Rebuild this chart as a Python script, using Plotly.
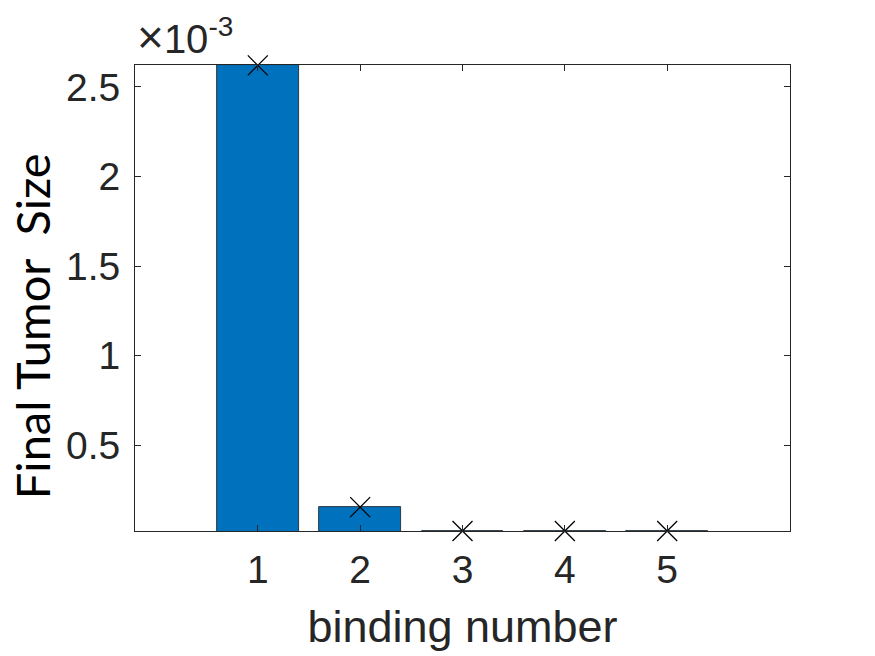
import plotly.graph_objects as go

binding = [1, 2, 3, 4, 5]
tumor_size = [2.62e-3, 0.155e-3, 0.022e-3, 0.022e-3, 0.022e-3]
y_tickvals = [0.5e-3, 1.0e-3, 1.5e-3, 2.0e-3, 2.5e-3]
y_ticktext = ["0.5", "1", "1.5", "2", "2.5"]
x_tickvals = [1, 2, 3, 4, 5]

font_family = "Liberation Sans, Arial, sans-serif"
txt = "#262626"

fig = go.Figure()
fig.add_trace(go.Bar(
    x=binding, y=tumor_size, width=0.8,
    marker=dict(color="#0072BD", line=dict(color="#1a1a1a", width=0.8)),
    showlegend=False,
))
fig.add_trace(go.Scatter(
    x=binding, y=tumor_size, mode="markers",
    marker=dict(symbol="x-thin", size=20, line=dict(color="black", width=1.3)),
    showlegend=False, cliponaxis=False,
))

axis_common = dict(
    showline=True, linecolor="#262626", linewidth=1, mirror="ticks",
    ticks="inside", ticklen=6, tickcolor="#262626", showgrid=False, zeroline=False,
    tickfont=dict(family=font_family, size=39, color=txt),
)

fig.update_layout(
    width=875, height=656,
    margin=dict(l=127, r=93, t=57, b=133),
    plot_bgcolor="white", paper_bgcolor="white",
    bargap=0,
    xaxis=dict(range=[-0.2, 6.2], tickvals=x_tickvals, ticklabelstandoff=4,
               title=dict(text="binding number", font=dict(family=font_family, size=45, color=txt), standoff=20),
               **axis_common),
    yaxis=dict(range=[0.022e-3, 2.622e-3], tickvals=y_tickvals, ticktext=y_ticktext,
               ticklabelstandoff=6, **axis_common),
    annotations=[
        dict(
            text="<span style='font-size:46px'>×</span>10<sup>-3</sup>",
            xref="paper", yref="paper", x=0.0, y=1.0, xanchor="left", yanchor="bottom",
            showarrow=False, font=dict(family=font_family, size=40, color=txt),
        ),
        dict(
            text="Final Tumor  Size",
            xref="paper", yref="paper", x=-0.157, y=0.44, xanchor="center", yanchor="middle",
            textangle=-90, showarrow=False, font=dict(family="Lato", size=47, color="black"),
        ),
    ],
)

fig.write_html("out.html")
